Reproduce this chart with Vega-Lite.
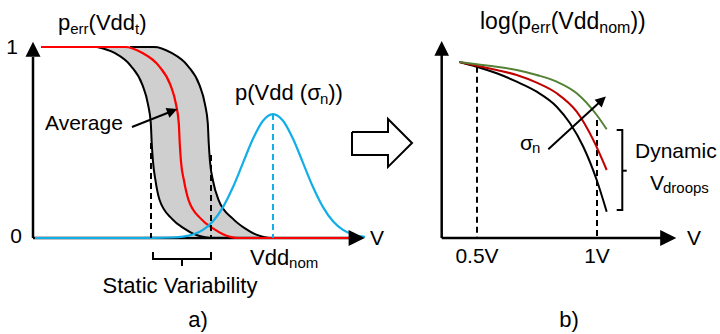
{
  "$schema": "https://vega.github.io/schema/vega-lite/v6.json",
  "padding": 0,
  "spacing": 0,
  "bounds": "flush",
  "background": "white",
  "config": {"view": {"stroke": null}},
  "resolve": {"scale": {"x": "independent", "y": "independent"}},
  "datasets": {
    "aFill": [
      {"p": 1, "v": 0.64, "v2": 1.21},
      {"p": 0.97, "v": 0.81, "v2": 1.38},
      {"p": 0.9, "v": 0.98, "v2": 1.55},
      {"p": 0.8, "v": 1.095, "v2": 1.665},
      {"p": 0.7, "v": 1.15, "v2": 1.72},
      {"p": 0.6, "v": 1.178, "v2": 1.748},
      {"p": 0.5, "v": 1.187, "v2": 1.757},
      {"p": 0.4, "v": 1.2, "v2": 1.77},
      {"p": 0.3, "v": 1.225, "v2": 1.8},
      {"p": 0.2, "v": 1.265, "v2": 1.855},
      {"p": 0.1, "v": 1.39, "v2": 2.0},
      {"p": 0.05, "v": 1.51, "v2": 2.12},
      {"p": 0.02, "v": 1.61, "v2": 2.22},
      {"p": 0, "v": 1.77, "v2": 2.36}
    ],
    "aLeft": [
      {"i": 0, "v": 0.64, "p": 1},
      {"i": 1, "v": 0.81, "p": 0.97},
      {"i": 2, "v": 0.98, "p": 0.9},
      {"i": 3, "v": 1.095, "p": 0.8},
      {"i": 4, "v": 1.15, "p": 0.7},
      {"i": 5, "v": 1.178, "p": 0.6},
      {"i": 6, "v": 1.187, "p": 0.5},
      {"i": 7, "v": 1.2, "p": 0.4},
      {"i": 8, "v": 1.225, "p": 0.3},
      {"i": 9, "v": 1.265, "p": 0.2},
      {"i": 10, "v": 1.39, "p": 0.1},
      {"i": 11, "v": 1.51, "p": 0.05},
      {"i": 12, "v": 1.61, "p": 0.02},
      {"i": 13, "v": 1.77, "p": 0}
    ],
    "aRight": [
      {"i": 0, "v": 0.97, "p": 1},
      {"i": 1, "v": 1.21, "p": 1},
      {"i": 2, "v": 1.38, "p": 0.97},
      {"i": 3, "v": 1.55, "p": 0.9},
      {"i": 4, "v": 1.665, "p": 0.8},
      {"i": 5, "v": 1.72, "p": 0.7},
      {"i": 6, "v": 1.748, "p": 0.6},
      {"i": 7, "v": 1.757, "p": 0.5},
      {"i": 8, "v": 1.77, "p": 0.4},
      {"i": 9, "v": 1.8, "p": 0.3},
      {"i": 10, "v": 1.855, "p": 0.2},
      {"i": 11, "v": 2.0, "p": 0.1},
      {"i": 12, "v": 2.12, "p": 0.05},
      {"i": 13, "v": 2.22, "p": 0.02},
      {"i": 14, "v": 2.36, "p": 0}
    ],
    "aAvg": [
      {"i": 0, "v": 0.08, "p": 1},
      {"i": 1, "v": 0.92, "p": 1},
      {"i": 2, "v": 1.09, "p": 0.97},
      {"i": 3, "v": 1.26, "p": 0.9},
      {"i": 4, "v": 1.375, "p": 0.8},
      {"i": 5, "v": 1.43, "p": 0.7},
      {"i": 6, "v": 1.458, "p": 0.6},
      {"i": 7, "v": 1.467, "p": 0.5},
      {"i": 8, "v": 1.48, "p": 0.4},
      {"i": 9, "v": 1.51, "p": 0.3},
      {"i": 10, "v": 1.555, "p": 0.2},
      {"i": 11, "v": 1.68, "p": 0.1},
      {"i": 12, "v": 1.8, "p": 0.05},
      {"i": 13, "v": 1.9, "p": 0.02},
      {"i": 14, "v": 2.06, "p": 0},
      {"i": 15, "v": 3.17, "p": 0}
    ],
    "aBlue": [
      {"i": 0, "v": 0.02, "p": 0},
      {"i": 1, "v": 1.0, "p": 0},
      {"i": 2, "v": 1.2, "p": 0.0002},
      {"i": 3, "v": 1.4, "p": 0.0025},
      {"i": 4, "v": 1.5, "p": 0.0072},
      {"i": 5, "v": 1.6, "p": 0.0185},
      {"i": 6, "v": 1.7, "p": 0.0427},
      {"i": 7, "v": 1.8, "p": 0.0878},
      {"i": 8, "v": 1.9, "p": 0.1619},
      {"i": 9, "v": 2.0, "p": 0.2668},
      {"i": 10, "v": 2.1, "p": 0.3936},
      {"i": 11, "v": 2.2, "p": 0.5197},
      {"i": 12, "v": 2.3, "p": 0.6139},
      {"i": 13, "v": 2.4, "p": 0.649},
      {"i": 14, "v": 2.5, "p": 0.6139},
      {"i": 15, "v": 2.6, "p": 0.5197},
      {"i": 16, "v": 2.7, "p": 0.3936},
      {"i": 17, "v": 2.8, "p": 0.2668},
      {"i": 18, "v": 2.9, "p": 0.1619},
      {"i": 19, "v": 3.0, "p": 0.0878},
      {"i": 20, "v": 3.1, "p": 0.0427},
      {"i": 21, "v": 3.2, "p": 0.0185},
      {"i": 22, "v": 3.3, "p": 0.0072},
      {"i": 23, "v": 3.32, "p": 0.006}
    ],
    "aAxes": [
      {"id": "y", "i": 0, "v": 0, "p": 0},
      {"id": "y", "i": 1, "v": 0, "p": 0.948},
      {"id": "x", "i": 0, "v": 0, "p": 0},
      {"id": "x", "i": 1, "v": 3.16, "p": 0}
    ],
    "aDash": [
      {"id": "l", "i": 0, "v": 1.18, "p": 0.497},
      {"id": "l", "i": 1, "v": 1.18, "p": 0},
      {"id": "r", "i": 0, "v": 1.78, "p": 0.435},
      {"id": "r", "i": 1, "v": 1.78, "p": 0}
    ],
    "aBlueDash": [
      {"id": "m", "i": 0, "v": 2.4, "p": 0.649},
      {"id": "m", "i": 1, "v": 2.4, "p": 0}
    ],
    "aThin": [
      {"id": "brace", "i": 0, "v": 1.2, "p": -0.073},
      {"id": "brace", "i": 1, "v": 1.2, "p": -0.11},
      {"id": "brace", "i": 2, "v": 1.78, "p": -0.11},
      {"id": "brace", "i": 3, "v": 1.78, "p": -0.073},
      {"id": "tick", "i": 0, "v": 1.49, "p": -0.11},
      {"id": "tick", "i": 1, "v": 1.49, "p": -0.147},
      {"id": "avg", "i": 0, "v": 0.99, "p": 0.581},
      {"id": "avg", "i": 1, "v": 1.394, "p": 0.665},
      {"id": "hollow", "i": 0, "v": 3.19, "p": 0.555},
      {"id": "hollow", "i": 1, "v": 3.55, "p": 0.555},
      {"id": "hollow", "i": 2, "v": 3.55, "p": 0.623},
      {"id": "hollow", "i": 3, "v": 3.79, "p": 0.497},
      {"id": "hollow", "i": 4, "v": 3.55, "p": 0.372},
      {"id": "hollow", "i": 5, "v": 3.55, "p": 0.435},
      {"id": "hollow", "i": 6, "v": 3.19, "p": 0.435},
      {"id": "hollow", "i": 7, "v": 3.19, "p": 0.555}
    ],
    "aHeadY": [{"v": 0, "p": 0.988}],
    "aHeadX": [{"v": 3.237, "p": 0}],
    "aHeadAvg": [{"v": 1.394, "p": 0.665}],
    "aText22": [
      {"v": 0.25, "p": 1.089, "t": "p"},
      {"v": 0.556, "p": 1.089, "t": "(Vdd"},
      {"v": 1.062, "p": 1.089, "t": ")"},
      {"v": 2.02, "p": 0.7225, "t": "p(Vdd (σ"},
      {"v": 2.952, "p": 0.7225, "t": "))"},
      {"v": 2.17, "p": -0.1414, "t": "Vdd"}
    ],
    "aText21": [
      {"v": 0.12, "p": 0.565, "t": "Average"},
      {"v": 3.37, "p": -0.0366, "t": "V"}
    ],
    "aSub": [
      {"v": 0.372, "p": 1.068, "t": "err"},
      {"v": 1.02, "p": 1.068, "t": "t"},
      {"v": 2.869, "p": 0.7016, "t": "n"},
      {"v": 2.561, "p": -0.157, "t": "nom"}
    ],
    "aTextC21": [
      {"v": -0.21, "p": 0.963, "t": "1"},
      {"v": -0.17, "p": -0.026, "t": "0"}
    ],
    "aTextC22": [
      {"v": 1.47, "p": -0.288, "t": "Static Variability"},
      {"v": 1.65, "p": -0.466, "t": "a)"}
    ],
    "bBlack": [
      {"i": 0, "v": 0.4263, "p": -1.2},
      {"i": 1, "v": 0.4988, "p": -1.435},
      {"i": 2, "v": 0.5821, "p": -1.765},
      {"i": 3, "v": 0.6654, "p": -2.185},
      {"i": 4, "v": 0.7488, "p": -2.685},
      {"i": 5, "v": 0.8321, "p": -3.435},
      {"i": 6, "v": 0.8875, "p": -4.265},
      {"i": 7, "v": 0.9429, "p": -5.435},
      {"i": 8, "v": 0.9988, "p": -7.1},
      {"i": 9, "v": 1.0404, "p": -8.685}
    ],
    "bRed": [
      {"i": 0, "v": 0.4263, "p": -1.2},
      {"i": 1, "v": 0.4988, "p": -1.385},
      {"i": 2, "v": 0.5821, "p": -1.6},
      {"i": 3, "v": 0.6654, "p": -1.85},
      {"i": 4, "v": 0.7488, "p": -2.235},
      {"i": 5, "v": 0.8321, "p": -2.765},
      {"i": 6, "v": 0.9154, "p": -3.685},
      {"i": 7, "v": 0.9846, "p": -5.1},
      {"i": 8, "v": 1.0404, "p": -6.6}
    ],
    "bGreen": [
      {"i": 0, "v": 0.4263, "p": -1.2},
      {"i": 1, "v": 0.4988, "p": -1.315},
      {"i": 2, "v": 0.5821, "p": -1.435},
      {"i": 3, "v": 0.6654, "p": -1.6},
      {"i": 4, "v": 0.7488, "p": -1.85},
      {"i": 5, "v": 0.8321, "p": -2.185},
      {"i": 6, "v": 0.9154, "p": -2.765},
      {"i": 7, "v": 0.9988, "p": -3.85},
      {"i": 8, "v": 1.0404, "p": -4.565}
    ],
    "bAxes": [
      {"id": "y", "i": 0, "v": 0.3529, "p": -10},
      {"id": "y", "i": 1, "v": 0.3529, "p": -0.85},
      {"id": "x", "i": 0, "v": 0.3529, "p": -10},
      {"id": "x", "i": 1, "v": 1.271, "p": -10}
    ],
    "bDash": [
      {"id": "a", "i": 0, "v": 0.5, "p": -1.435},
      {"id": "a", "i": 1, "v": 0.5, "p": -10},
      {"id": "b", "i": 0, "v": 1.0, "p": -4.1},
      {"id": "b", "i": 1, "v": 1.0, "p": -10}
    ],
    "bThin": [
      {"id": "br", "i": 0, "v": 1.0821, "p": -4.6},
      {"id": "br", "i": 1, "v": 1.1054, "p": -4.6},
      {"id": "br", "i": 2, "v": 1.1054, "p": -8.6},
      {"id": "br", "i": 3, "v": 1.0821, "p": -8.6},
      {"id": "mid", "i": 0, "v": 1.1054, "p": -6.635},
      {"id": "mid", "i": 1, "v": 1.1238, "p": -6.635},
      {"id": "sig", "i": 0, "v": 0.7971, "p": -5.565},
      {"id": "sig", "i": 1, "v": 1.0208, "p": -3.105}
    ],
    "bHeadY": [{"v": 0.3529, "p": -0.515}],
    "bHeadX": [{"v": 1.297, "p": -10}],
    "bHeadSig": [{"v": 1.0208, "p": -3.105}],
    "bTitle": [
      {"v": 0.5125, "p": 0.45, "t": "log(p"},
      {"v": 0.8071, "p": 0.45, "t": "(Vdd"},
      {"v": 1.1392, "p": 0.45, "t": "))"}
    ],
    "bTitleSub": [
      {"v": 0.7254, "p": 0.25, "t": "err"},
      {"v": 1.0096, "p": 0.25, "t": "nom"}
    ],
    "bText21": [
      {"v": 1.375, "p": -10.35, "t": "V"},
      {"v": 0.6792, "p": -5.6, "t": "σ"},
      {"v": 1.1583, "p": -6.0, "t": "Dynamic"},
      {"v": 1.2208, "p": -7.6, "t": "V"}
    ],
    "bSub": [
      {"v": 0.7292, "p": -5.75, "t": "n"},
      {"v": 1.275, "p": -7.75, "t": "droops"}
    ],
    "bTextC21": [
      {"v": 0.5, "p": -11.25, "t": "0.5V"},
      {"v": 1.0, "p": -11.25, "t": "1V"}
    ],
    "bTextC22": [
      {"v": 0.8833, "p": -14.45, "t": "b)"}
    ]
  },
  "hconcat": [
    {
      "width": 420,
      "height": 334,
      "encoding": {
        "x": {"field": "v", "type": "quantitative", "scale": {"domain": [-0.33, 3.87], "nice": false, "zero": false}, "axis": null},
        "y": {"field": "p", "type": "quantitative", "scale": {"domain": [-0.50262, 1.24607], "nice": false, "zero": false}, "axis": null}
      },
      "layer": [
        {"data": {"name": "aFill"}, "mark": {"type": "area", "orient": "horizontal", "interpolate": "monotone", "color": "#CFCFCF"}, "encoding": {"x2": {"field": "v2"}}},
        {"data": {"name": "aAxes"}, "mark": {"type": "line", "color": "black", "strokeWidth": 2.5}, "encoding": {"detail": {"field": "id"}, "order": {"field": "i"}}},
        {"data": {"name": "aLeft"}, "mark": {"type": "line", "interpolate": "monotone", "color": "black", "strokeWidth": 2}, "encoding": {"order": {"field": "i"}}},
        {"data": {"name": "aRight"}, "mark": {"type": "line", "interpolate": "monotone", "color": "black", "strokeWidth": 2}, "encoding": {"order": {"field": "i"}}},
        {"data": {"name": "aAvg"}, "mark": {"type": "line", "interpolate": "monotone", "color": "#FF0000", "strokeWidth": 2.2}, "encoding": {"order": {"field": "i"}}},
        {"data": {"name": "aBlue"}, "mark": {"type": "line", "interpolate": "monotone", "color": "#12AEE8", "strokeWidth": 2.2}, "encoding": {"order": {"field": "i"}}},
        {"data": {"name": "aDash"}, "mark": {"type": "line", "color": "black", "strokeWidth": 2, "strokeDash": [6, 4]}, "encoding": {"detail": {"field": "id"}, "order": {"field": "i"}}},
        {"data": {"name": "aBlueDash"}, "mark": {"type": "line", "color": "#12AEE8", "strokeWidth": 2, "strokeDash": [6, 4]}, "encoding": {"detail": {"field": "id"}, "order": {"field": "i"}}},
        {"data": {"name": "aThin"}, "mark": {"type": "line", "color": "black", "strokeWidth": 2, "strokeJoin": "miter"}, "encoding": {"detail": {"field": "id"}, "order": {"field": "i"}}},
        {"data": {"name": "aHeadY"}, "mark": {"type": "point", "shape": "M-1,1L0,-1L1,1Z", "filled": true, "color": "black", "opacity": 1, "size": 225, "angle": 0}, "encoding": {}},
        {"data": {"name": "aHeadX"}, "mark": {"type": "point", "shape": "M-1,1L0,-1L1,1Z", "filled": true, "color": "black", "opacity": 1, "size": 260, "angle": 90}, "encoding": {}},
        {"data": {"name": "aHeadAvg"}, "mark": {"type": "point", "shape": "M-1,1L0,-1L1,1Z", "filled": true, "color": "black", "opacity": 1, "size": 110, "angle": 68.2}, "encoding": {}},
        {"data": {"name": "aText22"}, "mark": {"type": "text", "align": "left", "baseline": "alphabetic", "font": "Liberation Sans", "fontSize": 22, "color": "black"}, "encoding": {"text": {"field": "t"}}},
        {"data": {"name": "aText21"}, "mark": {"type": "text", "align": "left", "baseline": "alphabetic", "font": "Liberation Sans", "fontSize": 21, "color": "black"}, "encoding": {"text": {"field": "t"}}},
        {"data": {"name": "aSub"}, "mark": {"type": "text", "align": "left", "baseline": "alphabetic", "font": "Liberation Sans", "fontSize": 15, "color": "black"}, "encoding": {"text": {"field": "t"}}},
        {"data": {"name": "aTextC21"}, "mark": {"type": "text", "align": "center", "baseline": "alphabetic", "font": "Liberation Sans", "fontSize": 21, "color": "black"}, "encoding": {"text": {"field": "t"}}},
        {"data": {"name": "aTextC22"}, "mark": {"type": "text", "align": "center", "baseline": "alphabetic", "font": "Liberation Sans", "fontSize": 22, "color": "black"}, "encoding": {"text": {"field": "t"}}}
      ]
    },
    {
      "width": 300,
      "height": 334,
      "encoding": {
        "x": {"field": "v", "type": "quantitative", "scale": {"domain": [0.2625, 1.5125], "nice": false, "zero": false}, "axis": null},
        "y": {"field": "p", "type": "quantitative", "scale": {"domain": [-14.8, 1.9], "nice": false, "zero": false}, "axis": null}
      },
      "layer": [
        {"data": {"name": "bAxes"}, "mark": {"type": "line", "color": "black", "strokeWidth": 2.5}, "encoding": {"detail": {"field": "id"}, "order": {"field": "i"}}},
        {"data": {"name": "bDash"}, "mark": {"type": "line", "color": "black", "strokeWidth": 2, "strokeDash": [6, 4]}, "encoding": {"detail": {"field": "id"}, "order": {"field": "i"}}},
        {"data": {"name": "bBlack"}, "mark": {"type": "line", "interpolate": "monotone", "color": "black", "strokeWidth": 2}, "encoding": {"order": {"field": "i"}}},
        {"data": {"name": "bRed"}, "mark": {"type": "line", "interpolate": "monotone", "color": "#C00000", "strokeWidth": 2}, "encoding": {"order": {"field": "i"}}},
        {"data": {"name": "bGreen"}, "mark": {"type": "line", "interpolate": "monotone", "color": "#548235", "strokeWidth": 2}, "encoding": {"order": {"field": "i"}}},
        {"data": {"name": "bThin"}, "mark": {"type": "line", "color": "black", "strokeWidth": 2, "strokeJoin": "miter"}, "encoding": {"detail": {"field": "id"}, "order": {"field": "i"}}},
        {"data": {"name": "bHeadY"}, "mark": {"type": "point", "shape": "M-1,1L0,-1L1,1Z", "filled": true, "color": "black", "opacity": 1, "size": 215, "angle": 0}, "encoding": {}},
        {"data": {"name": "bHeadX"}, "mark": {"type": "point", "shape": "M-1,1L0,-1L1,1Z", "filled": true, "color": "black", "opacity": 1, "size": 260, "angle": 90}, "encoding": {}},
        {"data": {"name": "bHeadSig"}, "mark": {"type": "point", "shape": "M-1,1L0,-1L1,1Z", "filled": true, "color": "black", "opacity": 1, "size": 110, "angle": 47.5}, "encoding": {}},
        {"data": {"name": "bTitle"}, "mark": {"type": "text", "align": "left", "baseline": "alphabetic", "font": "Liberation Sans", "fontSize": 23, "color": "black"}, "encoding": {"text": {"field": "t"}}},
        {"data": {"name": "bTitleSub"}, "mark": {"type": "text", "align": "left", "baseline": "alphabetic", "font": "Liberation Sans", "fontSize": 16, "color": "black"}, "encoding": {"text": {"field": "t"}}},
        {"data": {"name": "bText21"}, "mark": {"type": "text", "align": "left", "baseline": "alphabetic", "font": "Liberation Sans", "fontSize": 21, "color": "black"}, "encoding": {"text": {"field": "t"}}},
        {"data": {"name": "bSub"}, "mark": {"type": "text", "align": "left", "baseline": "alphabetic", "font": "Liberation Sans", "fontSize": 15, "color": "black"}, "encoding": {"text": {"field": "t"}}},
        {"data": {"name": "bTextC21"}, "mark": {"type": "text", "align": "center", "baseline": "alphabetic", "font": "Liberation Sans", "fontSize": 21, "color": "black"}, "encoding": {"text": {"field": "t"}}},
        {"data": {"name": "bTextC22"}, "mark": {"type": "text", "align": "center", "baseline": "alphabetic", "font": "Liberation Sans", "fontSize": 22, "color": "black"}, "encoding": {"text": {"field": "t"}}}
      ]
    }
  ]
}
